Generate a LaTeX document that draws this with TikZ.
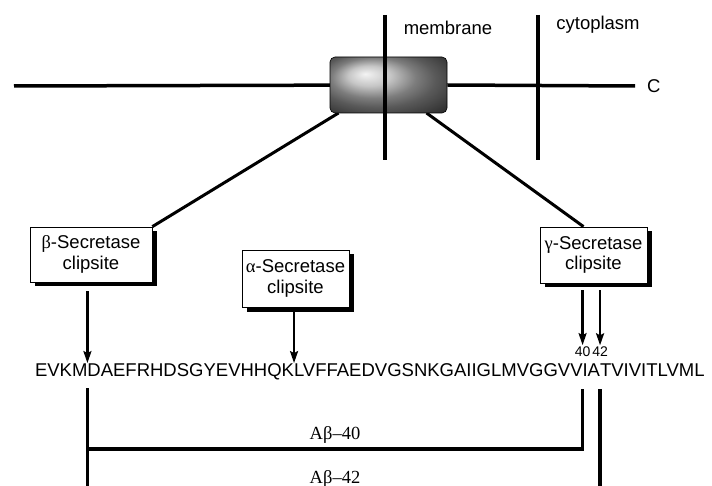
\documentclass[tikz,border=0pt]{standalone}
\usepackage{fontspec}
\setmainfont{Liberation Sans}
\newfontfamily\grk{Liberation Serif}
\usetikzlibrary{arrows.meta,calc,positioning,shadows}

\begin{document}
\begin{tikzpicture}[x=1pt,y=-1pt,
  bar/.style={line width=3.5pt},
  cut/.style={line width=2.2pt,-{Stealth[length=12pt,width=8pt,inset=2pt]}},
  clipbox/.style={draw,line width=0.8pt,fill=white,align=center,inner sep=2pt,
    font=\fontsize{18.5}{20.5}\selectfont,
    drop shadow={shadow xshift=4.5pt,shadow yshift=-4.5pt,opacity=1,fill=black}},
  tmbox/.style={rounded corners=5pt,minimum width=117pt,minimum height=56pt,
    draw=black,line width=0.6pt,ball color=black!30},
  seq/.style={inner sep=0pt,outer sep=0pt,anchor=base west,font=\fontsize{18.5}{22}\selectfont},
  lbl/.style={font=\fontsize{18.5}{22}\selectfont},
  num/.style={inner xsep=0.3pt,inner ysep=1pt,anchor=base,font=\fontsize{14}{17}\selectfont},
  ab/.style={anchor=base,font=\grk\fontsize{18.5}{22}\selectfont}]
\useasboundingbox (0,0) rectangle (712,486);
\coordinate (nterm) at (14,86);
\coordinate (m1top) at (385,15);
\coordinate (m1bot) at (385,160);
\coordinate (m2top) at (538,15);
\coordinate (m2bot) at (538,160);
\coordinate (mid) at (0,449);
\coordinate (bot) at (0,486);
% clipsite boxes
\node[clipbox,minimum width=122pt,minimum height=55pt] (beta) at (91,254.5) {{\grk β}-Secretase\\clipsite};
\node[clipbox,minimum width=107pt,minimum height=57pt] (alpha) at (295.5,278.5) {{\grk α}-Secretase\\clipsite};
\node[clipbox,minimum width=107pt,minimum height=56pt] (gamma) at (593.5,255) {{\grk γ}-Secretase\\clipsite};
% protein across the membrane
\coordinate (tmc) at (388.5,85);
\draw[bar] (nterm) -- (tmc);
\draw[bar,line width=3pt] ($(tmc)+(-50,28)$) -- (beta.north east);
\draw[bar,line width=3pt] ($(tmc)+(38,28)$) -- ([xshift=-10pt]gamma.north);
\node[tmbox] (tm) at (tmc) {};
\node[lbl,anchor=west,inner sep=0pt] (cterm) at (647,86) {C};
\draw[bar] (tm.east) -- ([xshift=-12pt]cterm.west);
\draw[bar] (m1top) -- (m1bot); % membrane
\draw[bar] (m2top) -- (m2bot); % cytoplasm
\node[lbl] (mem) at (448,28) {membrane};
\node[lbl] (cyto) at (598,25) {cytoplasm};
% sequence
\node[seq] (s1) at (35,376) {EVKM};
\node[seq] (s2) at (s1.base east) {DAEFRHDSGYEVHHQK};
\node[seq] (s3) at (s2.base east) {LVFFAEDVGSNKGAIIGLMVGGVV};
\node[seq] (s4) at (s3.base east) {IA};
\node[seq] (s5) at (s4.base east) {TVIVITLVML};
\node[num] (n40) at ([yshift=7pt]s3.north east) {40};
\node[num] (n42) at ([yshift=7pt]s4.north east) {42};
% cuts
\draw[cut,shorten <=9pt] (beta.south -| s2.north west) -- (s2.north west);
\draw[cut,shorten <=5pt] (alpha.south -| s3.north west) -- (s3.north west);
\draw[cut,shorten <=7pt] (gamma.south -| n40.north) -- (n40.north);
\draw[cut,shorten <=7pt] (gamma.south -| n42.north) -- (n42.north);
% A beta fragments
\draw[bar] ([yshift=-12pt]s2.base west) -- (s2.base west |- bot);
\draw[bar] (s2.base west |- mid) -- (s3.base east |- mid) -- ([yshift=-13pt]s3.base east);
\draw[bar] ([yshift=-13pt]s4.base east) -- (s4.base east |- bot);
\node[ab] (ab40) at ($(s2.base west |- mid)!0.5!(s3.base east |- mid)+(0,-10)$) {Aβ–40};
\node[ab] (ab42) at ($(ab40.base)+(0,44)$) {Aβ–42};
\end{tikzpicture}
\end{document}
